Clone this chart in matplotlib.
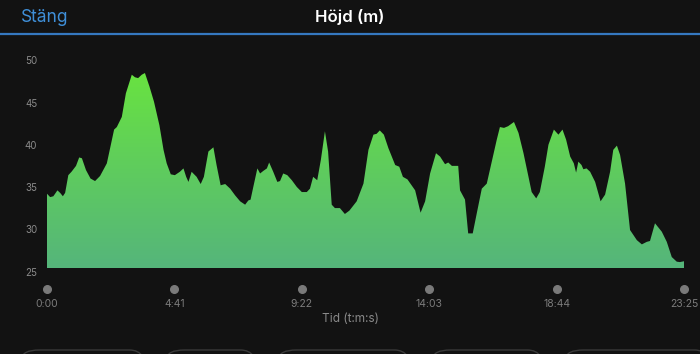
import numpy as np
import matplotlib
matplotlib.use("Agg")
import matplotlib.pyplot as plt
from matplotlib.colors import LinearSegmentedColormap
from matplotlib.patches import FancyBboxPatch
import matplotlib.transforms as mtrans

plt.rcParams['font.family'] = ['Inter', 'DejaVu Sans']

# elapsed time (s) and altitude (m)
time_s = [0, 7, 14, 23, 29, 35, 40, 47, 54, 64, 71, 77, 86, 96, 106, 117,
          132, 148, 154, 165, 174, 187, 194, 201, 209, 216, 226, 236, 248,
          257, 264, 273, 282, 293, 301, 307, 312, 319, 330, 339, 346, 356,
          367, 374, 383, 393, 404, 415, 426, 437, 444, 449, 455, 464, 470,
          477, 485, 490, 499, 508, 514, 521, 530, 540, 551, 562, 573, 580,
          587, 596, 604, 613, 620, 628, 635, 646, 657, 667, 683, 698, 709,
          720, 727, 734, 743, 753, 768, 777, 785, 795, 812, 824, 834, 845,
          858, 867, 878, 885, 893, 907, 911, 922, 929, 939, 948, 959, 970,
          981, 992, 999, 1008, 1017, 1030, 1040, 1051, 1062, 1069, 1079,
          1087, 1098, 1106, 1118, 1128, 1137, 1145, 1154, 1162, 1167, 1172,
          1179, 1183, 1190, 1198, 1209, 1221, 1231, 1242, 1249, 1257, 1264,
          1275, 1286, 1301, 1312, 1323, 1330, 1341, 1356, 1367, 1378, 1389,
          1396, 1405]
height_m = [33.8, 33.4, 33.5, 34.2, 33.9, 33.5, 33.9, 36.0, 36.4, 37.1,
            38.1, 38.0, 36.6, 35.6, 35.3, 35.9, 37.4, 41.4, 41.7, 42.9,
            45.7, 47.9, 47.6, 47.5, 47.9, 48.1, 46.5, 44.7, 41.9, 39.0,
            37.4, 36.1, 36.0, 36.4, 36.8, 35.8, 35.2, 36.4, 35.8, 34.95,
            35.8, 38.8, 39.3, 37.2, 34.8, 34.95, 34.4, 33.6, 32.9, 32.5,
            33.0, 33.1, 34.6, 36.8, 36.2, 36.5, 36.8, 37.5, 36.4, 35.2,
            35.3, 36.2, 36.0, 35.4, 34.6, 34.0, 34.0, 34.4, 35.8, 35.4,
            37.8, 41.2, 38.8, 32.5, 32.1, 32.1, 31.4, 31.8, 32.9, 35.0,
            39.0, 40.8, 40.9, 41.3, 40.8, 39.2, 37.2, 37.0, 35.8, 35.5,
            34.2, 31.55, 32.9, 36.2, 38.6, 38.2, 37.3, 37.5, 37.1, 37.1,
            34.2, 33.1, 29.1, 29.1, 31.5, 34.4, 35.0, 37.6, 40.2, 41.7,
            41.6, 41.8, 42.3, 41.0, 38.6, 35.8, 34.0, 33.25, 34.0, 37.0,
            39.6, 41.4, 40.8, 41.4, 40.2, 38.2, 37.4, 36.3, 37.6, 37.2,
            36.7, 36.8, 36.4, 35.2, 32.9, 33.7, 36.4, 39.0, 39.5, 38.4,
            35.0, 29.5, 28.3, 27.8, 28.1, 28.2, 30.3, 29.3, 28.1, 26.3,
            25.75, 25.7, 25.8]
tick_s = [0, 281, 562, 843, 1124, 1405]
tick_lbl = ['0:00', '4:41', '9:22', '14:03', '18:44', '23:25']
y_ticks = [25, 30, 35, 40, 45, 50]

bg = '#121212'
fig = plt.figure(figsize=(7, 3.54), dpi=100, facecolor=bg)

# header
fig.text(21 / 700, 1 - 17 / 354, 'Stäng', color='#3f8fd8', fontsize=12.5,
         ha='left', va='center')
fig.text(0.5, 1 - 17 / 354, 'Höjd (m)', color='white', fontsize=12,
         fontweight='semibold', ha='center', va='center')
fig.add_artist(plt.Line2D([0, 1], [1 - 33.5 / 354] * 2, color='#3578c0',
                          lw=1.6, transform=fig.transFigure))

ax = fig.add_axes([47 / 700, 86 / 354, 637 / 700, 211 / 354])
ax.set_facecolor(bg)
ax.set_xlim(0, 1405)
ax.set_ylim(25, 50)

poly = ax.fill_between(time_s, height_m, 25, color='none', lw=0)
cmap = LinearSegmentedColormap.from_list('g', ['#55b57b', '#6ae63c'])
grad = np.linspace(0, 1, 256).reshape(-1, 1)
im = ax.imshow(grad, extent=[0, 1405, 25, 50], origin='lower',
               aspect='auto', cmap=cmap, zorder=1)
im.set_clip_path(poly.get_paths()[0], transform=ax.transData)

for s in ax.spines.values():
    s.set_visible(False)

ax.set_yticks(y_ticks)
ax.tick_params(axis='y', length=0, pad=7, labelsize=7, labelcolor='#8a8a8a')
off = mtrans.ScaledTranslation(0, -3.5 / 100, fig.dpi_scale_trans)
for lab in ax.get_yticklabels():
    lab.set_transform(lab.get_transform() + off)

ax.set_xticks(tick_s, tick_lbl)
ax.tick_params(axis='x', length=0, pad=22.5, labelsize=7.5,
               labelcolor='#7c7c7c')

# dots under each time label
tr = mtrans.blended_transform_factory(ax.transData, ax.transAxes)
ax.scatter(tick_s, [-21 / 211] * len(tick_s), s=30, color='#7a7a7a',
           transform=tr, clip_on=False, zorder=3)

fig.text(0.5, 1 - 319 / 354, 'Tid (t:m:s)', color='#8a8a8a', fontsize=8.5,
         ha='center', va='center')

# bottom buttons (cut off)
for x0, x1 in [(22, 147), (167, 258), (279, 412), (433, 545), (566, 712)]:
    fig.add_artist(FancyBboxPatch((x0 / 700, -30 / 354),
                                  (x1 - x0) / 700, 34 / 354,
                                  boxstyle='round,pad=0,rounding_size=0.025',
                                  fc='none', ec='#3a3a3a', lw=1,
                                  transform=fig.transFigure))

fig.savefig('out.png', dpi=100, facecolor=bg)
